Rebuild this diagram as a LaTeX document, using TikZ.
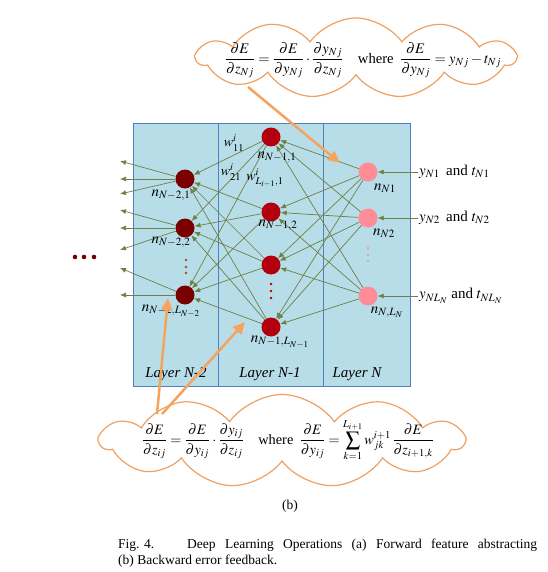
\documentclass[tikz,border=0pt]{standalone}
\usepackage{mathptmx}
\usepackage[no-math]{fontspec}
\setmainfont{Liberation Serif}
\usetikzlibrary{shapes.symbols,arrows.meta}
\definecolor{panelblue}{HTML}{B7DDE8}
\definecolor{boxblue}{HTML}{4F81BD}
\definecolor{nodeA}{HTML}{7A0000}
\definecolor{nodeB}{HTML}{B3000F}
\definecolor{nodeC}{HTML}{FF8C96}
\definecolor{linkgreen}{HTML}{6E7F45}
\definecolor{arrowor}{HTML}{F6A35E}
\definecolor{cloudor}{HTML}{F0A060}
\definecolor{dotbrown}{HTML}{A0522D}
\begin{document}
\begin{tikzpicture}[x=1pt,y=-1pt,
  layerbox/.style={draw=boxblue, fill=panelblue, line width=1.3pt, inner sep=0, anchor=north west},
  neuronA/.style={circle, fill=nodeA, minimum size=19pt, inner sep=0},
  neuronB/.style={circle, fill=nodeB, minimum size=19pt, inner sep=0},
  neuronC/.style={circle, fill=nodeC, minimum size=19pt, inner sep=0},
  link/.style={draw=linkgreen, line width=0.7pt, -{Latex[length=6pt,width=5pt]}},
  lbl/.style={font=\fontsize{15}{18}\selectfont, inner sep=1pt},
  wlbl/.style={font=\fontsize{14}{16}\selectfont, inner sep=0pt},
  layerlbl/.style={font=\fontsize{15}{18}\selectfont\itshape, inner sep=1pt},
  orarrow/.style={draw=arrowor, line width=2.5pt, -{Triangle[length=12pt,width=11pt]}},
  cloudbox/.style={cloud, cloud puffs=11, cloud puff arc=110, cloud ignores aspect, draw=cloudor, fill=white, line width=1.2pt, inner sep=0},
  eqn/.style={font=\fontsize{14.6}{18}\selectfont, inner sep=0},
  captxt/.style={font=\fontsize{13.5}{16}\selectfont, inner sep=0, anchor=west}
]
\useasboundingbox (0,0) rectangle (547,572);
\fill[white] (0,0) rectangle (547,572);

% layer panels
\node[layerbox, minimum width=85pt, minimum height=263pt] (P1) at (133,123) {};
\node[layerbox, minimum width=105pt, minimum height=263pt] (P2) at (218,123) {};
\node[layerbox, minimum width=87pt, minimum height=263pt] (P3) at (323,123) {};
\node[layerlbl] (LL1) at (176,374) {Layer N-2};
\node[layerlbl] (LL2) at (270,374) {Layer N-1};
\node[layerlbl] (LL3) at (357,374) {Layer N};

% neurons
\node[neuronA] (a1) at (185,179) {};
\node[neuronA] (a2) at (185,228) {};
\node[neuronA] (a3) at (185,295) {};
\node[neuronB] (b1) at (271,137) {};
\node[neuronB] (b2) at (271,212) {};
\node[neuronB] (b3) at (271,265) {};
\node[neuronB] (b4) at (271,327) {};
\node[neuronC] (c1) at (368,172) {};
\node[neuronC] (c2) at (368,218) {};
\node[neuronC] (c3) at (368,296) {};

% connections N-1 -> N-2
\foreach \i in {1,2,3,4}{\foreach \j in {1,2,3}{\draw[link] (b\i) -- (a\j);}}
% connections N -> N-1
\foreach \i in {1,2,3}{\foreach \j in {1,2,3,4}{\draw[link] (c\i) -- (b\j);}}

% outgoing arrows to the left
\coordinate (l1) at (120,161);
\coordinate (l2) at (120,179);
\coordinate (l3) at (120,194);
\coordinate (l4) at (120,210);
\coordinate (l5) at (120,228);
\coordinate (l6) at (120,250);
\coordinate (l7) at (120,268);
\coordinate (l8) at (120,295);
\draw[link] (a1) -- (l1);
\draw[link] (a1) -- (l2);
\draw[link] (a1) -- (l3);
\draw[link] (a2) -- (l4);
\draw[link] (a2) -- (l5);
\draw[link] (a2) -- (l6);
\draw[link] (a3) -- (l7);
\draw[link] (a3) -- (l8);

% dots
\foreach \y in {260,267,273}{\fill[dotbrown] (186,\y) circle (1.3pt);}
\foreach \y in {284,291,298}{\fill[nodeB] (271,\y) circle (1.4pt);}
\foreach \y in {248,255,261}{\fill[nodeC] (368,\y) circle (1.2pt);}
\foreach \x in {75,84,94}{\fill[nodeA] (\x,257) circle (2.3pt);}

% neuron labels
\node[lbl] (ta1) at (171,195) {$n_{N-2,1}$};
\node[lbl] (ta2) at (171,242) {$n_{N-2,2}$};
\node[lbl] (ta3) at (171,311) {$n_{N-2,L_{N-2}}$};
\node[lbl] (tb1) at (277,157) {$n_{N-1,1}$};
\node[lbl] (tb2) at (278,225) {$n_{N-1,2}$};
\node[lbl] (tb4) at (280,342) {$n_{N-1,L_{N-1}}$};
\node[lbl] (tc1) at (385,188) {$n_{N1}$};
\node[lbl] (tc2) at (384,233) {$n_{N2}$};
\node[lbl] (tc3) at (387,312) {$n_{N,L_N}$};

% weights
\node[wlbl] (w1) at (234,143) {$w_{11}^{i}$};
\node[wlbl] (w2) at (231,172) {$w_{21}^{i}$};
\node[wlbl] (w3) at (265,178) {$w_{L_{i-1},1}^{i}$};

% inputs
\node[lbl, anchor=west] (in1) at (418,172) {$y_{N1}$\, and $t_{N1}$};
\node[lbl, anchor=west] (in2) at (418,218) {$y_{N2}$\, and $t_{N2}$};
\node[lbl, anchor=west] (in3) at (418,296) {$y_{NL_N}$ and $t_{NL_N}$};
\draw[link] (in1.west) -- (c1);
\draw[link] (in2.west) -- (c2);
\draw[link] (in3.west) -- (c3);

% clouds
\node[cloudbox, minimum width=318pt, minimum height=80pt] (topcloud) at (356,58) {};
\node[eqn] (eqtop) at (363,60) {$\displaystyle\frac{\partial E}{\partial z_{Nj}}=\frac{\partial E}{\partial y_{Nj}}\cdot\frac{\partial y_{Nj}}{\partial z_{Nj}}\quad\mbox{where}\;\;\frac{\partial E}{\partial y_{Nj}}=y_{Nj}-t_{Nj}$};
\node[cloudbox, minimum width=363pt, minimum height=93pt] (botcloud) at (282,441) {};
\node[eqn, font=\fontsize{14.3}{18}\selectfont] (eqbot) at (288,440) {$\displaystyle\frac{\partial E}{\partial z_{ij}}=\frac{\partial E}{\partial y_{ij}}\cdot\frac{\partial y_{ij}}{\partial z_{ij}}\quad\mbox{where}\;\;\frac{\partial E}{\partial y_{ij}}=\sum_{k=1}^{L_{i+1}}w_{jk}^{i+1}\,\frac{\partial E}{\partial z_{i+1,k}}$};

% orange arrows
\coordinate (o1s) at (248,87);
\coordinate (o1e) at (340,163);
\coordinate (o2s) at (157,414);
\coordinate (o2e) at (168,298);
\coordinate (o3s) at (162,414);
\coordinate (o3e) at (245,322);
\draw[orarrow] (o1s) -- (o1e);
\draw[orarrow] (o2s) -- (o2e);
\draw[orarrow] (o3s) -- (o3e);

% caption
\node[font=\fontsize{13.5}{16}\selectfont, inner sep=0] (sub) at (290,506) {(b)};
\node[captxt] (cap1) at (118,545) {\makebox[419pt][s]{\mbox{Fig. 4.}\hspace{33pt}Deep Learning Operations (a) Forward feature abstracting}};
\node[captxt] (cap2) at (118,561) {(b) Backward error feedback.};
\end{tikzpicture}
\end{document}
